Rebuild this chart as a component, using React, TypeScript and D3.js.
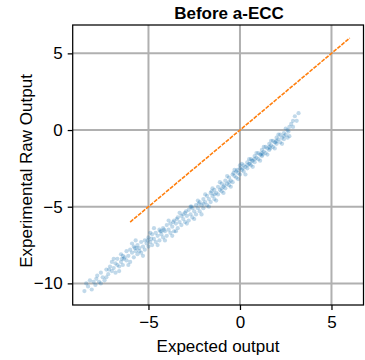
import React, { useEffect, useRef } from "react";
import * as d3 from "d3";

// expected output (x) and experimental raw output (y)
const pointsX: number[] = [
  -8.5, -8.3, -8.1, -8.0, -7.9, -7.8, -7.7, -7.6, -7.5, -7.4, -7.3, -7.2, -7.1, -7.0, -7.0, -6.9, -6.8, -6.8, -6.7, -6.6,
  -6.5, -6.5, -6.4, -6.3, -6.2, -6.2, -6.1, -6.0, -6.0, -5.9, -5.8, -5.8, -5.7, -5.6, -5.6, -5.5, -5.4, -5.4, -5.3, -5.2,
  -5.2, -5.1, -5.0, -5.0, -4.9, -4.8, -4.8, -4.7, -4.6, -4.6, -4.5, -4.4, -4.4, -4.3, -4.2, -4.2, -4.1, -4.0, -4.0, -3.9,
  -3.8, -3.8, -3.7, -3.6, -3.6, -3.5, -3.4, -3.4, -3.3, -3.2, -3.2, -3.1, -3.0, -3.0, -2.9, -2.8, -2.8, -2.7, -2.6, -2.6,
  -2.5, -2.4, -2.4, -2.3, -2.2, -2.2, -2.1, -2.0, -2.0, -1.9, -1.8, -1.8, -1.7, -1.6, -1.6, -1.5, -1.4, -1.4, -1.3, -1.2,
  -1.2, -1.1, -1.0, -1.0, -0.9, -0.8, -0.8, -0.7, -0.6, -0.6, -0.5, -0.4, -0.4, -0.3, -0.2, -0.2, -0.1, 0.0, 0.0, 0.1,
  0.2, 0.2, 0.3, 0.4, 0.4, 0.5, 0.6, 0.6, 0.7, 0.8, 0.8, 0.9, 1.0, 1.0, 1.1, 1.2, 1.2, 1.3, 1.4, 1.4,
  1.5, 1.6, 1.6, 1.7, 1.8, 1.8, 1.9, 2.0, 2.0, 2.1, 2.2, 2.2, 2.3, 2.4, 2.4, 2.5, 2.6, 2.6, 2.7, 2.8,
  2.9, 3.0, 3.2,
  -8.2, -7.6, -7.3, -6.9, -6.4, -6.1, -5.7, -5.3, -4.9, -4.5, -4.1, -3.9, -3.5, -3.3, -2.9, -2.7, -2.5, -2.3, -2.1, -1.9,
  -1.7, -1.5, -1.3, -1.1, -0.9, -0.7, -0.5, -0.3, -0.1, 0.1, 0.3, 0.5, 0.7, 0.9, 1.1, 1.3, 1.5, 1.7, 1.9, 2.1,
  2.3, 2.5, 2.7, 2.9, 3.1, -8.4, -6.6, -5.9, -4.7, -3.7, -2.0, -1.0, 0.0, 0.8, 1.6, 2.4, -0.6, -1.4, 0.4, 1.2,
  2.0, -3.1, -4.3, -5.5, -6.7,
  -7.85, -7.15, -6.45, -5.75, -5.05, -4.35, -3.65, -2.95, -2.25, -1.55, -0.85, -0.15, 0.55, 1.25, 1.95, 2.65,
  -0.35, 0.15, 0.65, 1.15, 1.65, -2.65, -3.45, -4.15, -4.85, -5.65, -6.35,
];

const pointsY: number[] = [
  -10.5, -10.2, -10.4, -9.9, -10.1, -9.5, -9.9, -9.3, -9.6, -9.8, -9.1, -9.4, -8.9, -9.2, -8.6, -9.0, -8.7, -9.3, -8.4, -8.9,
  -8.6, -8.1, -8.8, -8.3, -8.5, -7.9, -8.2, -8.6, -7.8, -8.0, -8.3, -7.6, -7.9, -7.5, -8.1, -7.7, -7.3, -8.0, -7.6, -7.2,
  -7.8, -7.4, -7.0, -7.6, -7.3, -6.8, -7.5, -7.1, -6.7, -7.3, -6.9, -6.5, -7.2, -6.8, -6.4, -7.0, -6.6, -6.2, -6.9, -6.5,
  -6.1, -6.7, -6.3, -5.9, -6.6, -6.1, -5.7, -6.4, -6.0, -5.6, -6.2, -5.8, -5.4, -6.0, -5.6, -5.2, -5.9, -5.5, -5.1, -5.7,
  -5.3, -4.9, -5.5, -5.1, -4.7, -5.3, -4.9, -4.5, -5.1, -4.7, -4.3, -4.9, -4.5, -4.1, -4.7, -4.3, -3.9, -4.5, -4.1, -3.7,
  -4.2, -3.9, -3.5, -4.0, -3.7, -3.3, -3.8, -3.5, -3.1, -3.6, -3.3, -2.9, -3.4, -3.0, -2.7, -3.1, -2.8, -2.5, -2.9, -2.6,
  -2.3, -2.7, -2.4, -2.1, -2.5, -2.2, -1.9, -2.3, -2.0, -1.7, -2.1, -1.8, -1.5, -1.9, -1.6, -1.3, -1.7, -1.4, -1.1, -1.5,
  -1.2, -0.9, -1.3, -1.0, -0.7, -1.1, -0.8, -0.5, -0.9, -0.6, -0.3, -0.8, -0.5, -0.2, -0.6, -0.3, 0.0, -0.5, 0.2, 0.4,
  0.6, 0.9, 1.1,
  -9.8, -10.0, -9.6, -8.4, -8.2, -8.8, -7.2, -8.2, -6.7, -7.5, -7.2, -5.9, -6.6, -5.4, -6.1, -5.0, -5.8, -4.6, -5.5, -4.2,
  -5.0, -3.8, -4.6, -3.4, -4.1, -3.0, -3.7, -2.6, -3.2, -2.2, -2.9, -1.9, -2.4, -1.5, -2.0, -1.1, -1.6, -0.7, -1.2, -0.3,
  -0.9, 0.1, -0.4, 0.2, 0.6, -10.0, -9.2, -7.4, -6.4, -6.9, -4.8, -3.8, -2.3, -1.9, -1.1, -0.4, -3.4, -4.2, -2.3, -1.5,
  -0.7, -5.5, -6.6, -7.9, -8.8,
  -9.7, -9.1, -8.4, -7.7, -7.2, -6.6, -6.0, -5.3, -4.8, -4.0, -3.6, -2.6, -2.2, -1.6, -0.8, -0.1,
  -2.8, -2.5, -2.0, -1.6, -1.2, -5.0, -5.8, -6.5, -7.1, -7.7, -8.4,
];

// orange reference line y = x
const refX: number[] = [-6, 6];
const refY: number[] = [-6, 6];

const xTicks: number[] = [-5, 0, 5];
const yTicks: number[] = [5, 0, -5, -10];

const App: React.FC = () => {
  const chartRef = useRef<SVGSVGElement | null>(null);

  useEffect(() => {
    if (!chartRef.current) return;

    const margin = { top: 25, right: 1.5, bottom: 55, left: 72.7 };
    const width = 365 - margin.left - margin.right;
    const height = 360 - margin.top - margin.bottom;

    const root = d3.select(chartRef.current);
    root.selectAll("*").remove();

    const svg = root
      .append("g")
      .attr("transform", `translate(${margin.left},${margin.top})`);

    const x = d3.scaleLinear().domain([-9.14, 6.75]).range([0, width]);
    const y = d3.scaleLinear().domain([-11.41, 6.85]).range([height, 0]);

    const font = "'Liberation Sans', Arial, sans-serif";

    // grid
    svg
      .selectAll(".gx")
      .data(xTicks)
      .join("line")
      .attr("x1", (d) => x(d))
      .attr("x2", (d) => x(d))
      .attr("y1", 0)
      .attr("y2", height)
      .attr("stroke", "#b0b0b0")
      .attr("stroke-width", 2);

    svg
      .selectAll(".gy")
      .data(yTicks)
      .join("line")
      .attr("x1", 0)
      .attr("x2", width)
      .attr("y1", (d) => y(d))
      .attr("y2", (d) => y(d))
      .attr("stroke", "#b0b0b0")
      .attr("stroke-width", 2);

    // scatter
    const pts = pointsX.map((px, i) => ({ px, py: pointsY[i] }));
    svg
      .append("g")
      .selectAll("circle")
      .data(pts)
      .join("circle")
      .attr("cx", (d) => x(d.px))
      .attr("cy", (d) => y(d.py))
      .attr("r", 2.1)
      .attr("fill", "#1f77b4")
      .attr("fill-opacity", 0.28);

    // reference line
    const ref = refX.map((rx, i) => [rx, refY[i]] as [number, number]);
    svg
      .append("path")
      .datum(ref)
      .attr("fill", "none")
      .attr("stroke", "#ff7f0e")
      .attr("stroke-width", 1.6)
      .attr("stroke-dasharray", "4,1.2")
      .attr(
        "d",
        d3
          .line<[number, number]>()
          .x((d) => x(d[0]))
          .y((d) => y(d[1]))
      );

    // frame
    svg
      .append("rect")
      .attr("x", 0)
      .attr("y", 0)
      .attr("width", width)
      .attr("height", height)
      .attr("fill", "none")
      .attr("stroke", "#000")
      .attr("stroke-width", 1.25);

    // axes
    const xAxis = svg
      .append("g")
      .attr("transform", `translate(0,${height})`)
      .call(
        d3
          .axisBottom(x)
          .tickValues(xTicks)
          .tickSize(5)
          .tickPadding(6)
          .tickFormat((d) => d3.format("")(d as number).replace("-", "\u2212"))
      );
    xAxis.select(".domain").remove();
    xAxis.selectAll("line").attr("stroke", "#000").attr("stroke-width", 1.25);
    xAxis
      .selectAll("text")
      .attr("font-family", font)
      .attr("font-size", 17)
      .attr("fill", "#000");

    const yAxis = svg.append("g").call(
      d3
        .axisLeft(y)
        .tickValues(yTicks)
        .tickSize(5)
        .tickPadding(5)
        .tickFormat((d) => d3.format("")(d as number).replace("-", "\u2212"))
    );
    yAxis.select(".domain").remove();
    yAxis.selectAll("line").attr("stroke", "#000").attr("stroke-width", 1.25);
    yAxis
      .selectAll("text")
      .attr("font-family", font)
      .attr("font-size", 17)
      .attr("fill", "#000");

    // labels
    svg
      .append("text")
      .attr("x", 218 - margin.left)
      .attr("y", 352 - margin.top)
      .attr("text-anchor", "middle")
      .attr("font-family", font)
      .attr("font-size", 17)
      .text("Expected output");

    svg
      .append("text")
      .attr("transform", `translate(${32 - margin.left},${171 - margin.top}) rotate(-90)`)
      .attr("text-anchor", "middle")
      .attr("font-family", font)
      .attr("font-size", 17)
      .text("Experimental Raw Output");

    svg
      .append("text")
      .attr("x", 229 - margin.left)
      .attr("y", 18.5 - margin.top)
      .attr("text-anchor", "middle")
      .attr("font-family", font)
      .attr("font-size", 17)
      .attr("font-weight", "bold")
      .text("Before a-ECC");
  }, []);

  return (
    <svg
      ref={chartRef}
      width={365}
      height={360}
      style={{ position: "absolute", left: 0, top: 0, background: "#fff" }}
    />
  );
};

export default App;
